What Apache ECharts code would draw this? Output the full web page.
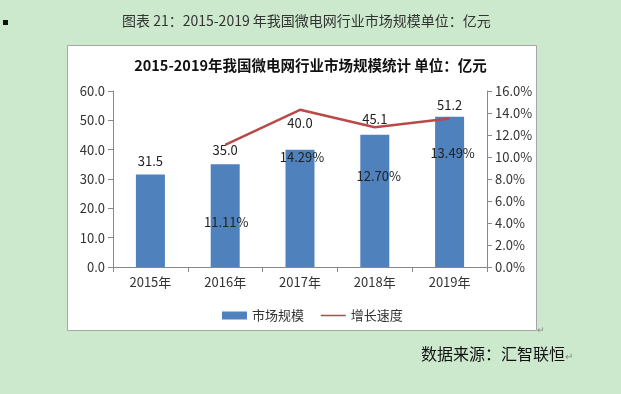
<!DOCTYPE html>
<html><head><meta charset="utf-8">
<script src="https://cdn.jsdelivr.net/npm/echarts@6/dist/echarts.min.js"></script>
<style>html,body{margin:0;padding:0;background:#cce8cd;}#c{width:621px;height:394px;}</style>
</head><body><div id="c"></div>
<script>
var categories = ['2015年','2016年','2017年','2018年','2019年'];
var marketSize = [31.5, 35.0, 40.0, 45.1, 51.2];
var growthRate = [null, 11.11, 14.29, 12.70, 13.49];
var leftTicks = [0, 10, 20, 30, 40, 50, 60];
var rightTicks = [0, 2, 4, 6, 8, 10, 12, 14, 16];

var FONT = '"Noto Sans CJK SC", "Noto Sans", sans-serif';
var barLabelOffsets = [[0,-2],[0,-3],[0,-15],[0,-4],[0,0]];
var lineLabelOffsets = [[0,0],[1,65],[2,35],[4,36],[3,22]];

var chart = echarts.init(document.getElementById('c'));
chart.setOption({
  backgroundColor: '#cce8cd',
  animation: false,
  graphic: [
    {type:'rect', shape:{x:67.5,y:45.5,width:469,height:285}, style:{fill:'#fff', stroke:'#a6a6a6', lineWidth:1}, z:-10},
    {type:'rect', shape:{x:3,y:20,width:5,height:5}, style:{fill:'#111'}},
    {type:'text', left:122, top:14, style:{text:'图表 21：2015-2019 年我国微电网行业市场规模单位：亿元', font:'14px '+FONT, fill:'#333'}},
    {type:'text', left:483, top:17, style:{text:'↵', font:'10px '+FONT, fill:'#888'}},
    {type:'text', left:421, top:346, style:{text:'数据来源：汇智联恒', font:'16px '+FONT, fill:'#111'}},
    {type:'text', left:565, top:351, style:{text:'↵', font:'10px '+FONT, fill:'#888'}},
    {type:'text', left:537, top:325, style:{text:'↵', font:'9px '+FONT, fill:'#888'}}
  ],
  title: {
    text: '2015-2019年我国微电网行业市场规模统计 单位：亿元',
    left: 'center', top: 53,
    textStyle: {fontSize: 14.5, fontWeight: 'bold', color: '#111', fontFamily: FONT}
  },
  legend: {
    left: 217, top: 304,
    itemWidth: 25, itemHeight: 8, itemGap: 16,
    textStyle: {fontSize: 13, color: '#333', fontFamily: FONT},
    data: [{name:'市场规模', icon:'rect'}, {name:'增长速度', lineStyle:{width:1.5}}]
  },
  grid: {left: 113, right: 134, top: 91, bottom: 127},
  xAxis: {
    type: 'category', data: categories,
    axisLine: {lineStyle: {color: '#888'}},
    axisTick: {show: true, alignWithLabel: false, length: 5, lineStyle:{color:'#888'}},
    axisLabel: {fontSize: 13, color: '#333', fontFamily: FONT, margin: 9}
  },
  yAxis: [
    {type: 'value', min: leftTicks[0], max: leftTicks[leftTicks.length-1], interval: 10,
     axisLine: {show: true, lineStyle: {color: '#888'}},
     axisTick: {show: true, length: 5, lineStyle:{color:'#888'}},
     splitLine: {show: false},
     axisLabel: {fontSize: 13, color: '#333', fontFamily: FONT, formatter: function(v){return v.toFixed(1);}, margin: 8}},
    {type: 'value', min: rightTicks[0], max: rightTicks[rightTicks.length-1], interval: 2,
     axisLine: {show: true, lineStyle: {color: '#888'}},
     axisTick: {show: true, length: 5, lineStyle:{color:'#888'}},
     splitLine: {show: false},
     axisLabel: {fontSize: 13, color: '#333', fontFamily: FONT, formatter: function(v){return v.toFixed(1)+'%';}, margin: 8}}
  ],
  series: [
    {name: '市场规模', type: 'bar', barWidth: 29, yAxisIndex: 0,
     itemStyle: {color: '#4f81bd'},
     data: marketSize.map(function(v,i){return {value:v, label:{offset: barLabelOffsets[i]}};}),
     label: {show: true, position: 'top', fontSize: 13, color: '#222', fontFamily: FONT,
             formatter: function(p){return p.value.toFixed(1);}}},
    {name: '增长速度', type: 'line', yAxisIndex: 1, symbol: 'circle', symbolSize: 2, showSymbol: true,
     lineStyle: {color: '#b84a48', width: 2.5}, itemStyle: {color: 'rgba(0,0,0,0)', borderWidth: 0},
     data: growthRate.map(function(v,i){return {value:v, label:{offset: lineLabelOffsets[i]}};}),
     label: {show: true, position: 'bottom', fontSize: 13, color: '#222', fontFamily: FONT,
             formatter: function(p){return p.value==null?'':p.value.toFixed(2)+'%';}},
     z: 5}
  ]
});
</script></body></html>
